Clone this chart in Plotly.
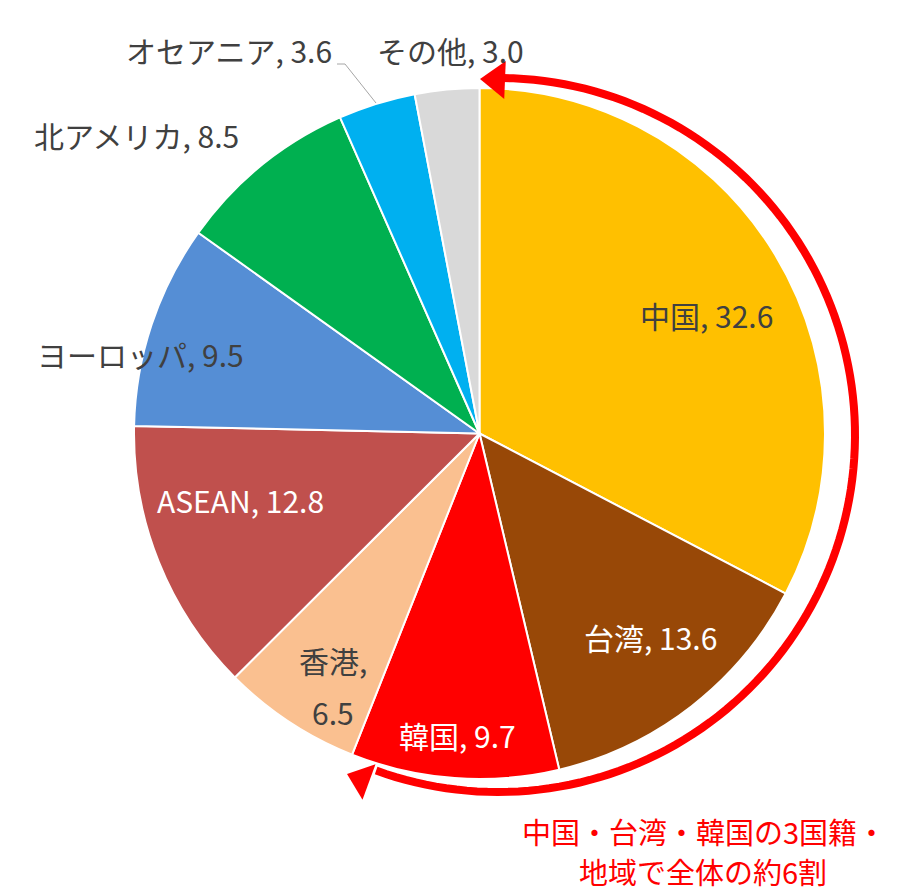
import math
import plotly.graph_objects as go

# ---- data ----
regions = ["中国", "台湾", "韓国", "香港", "ASEAN", "ヨーロッパ", "北アメリカ", "オセアニア", "その他"]
shares = [32.6, 13.6, 9.7, 6.5, 12.8, 9.5, 8.5, 3.6, 3.0]
colors = ["#FFC000", "#984807", "#FF0000", "#FAC090", "#C0504D", "#558ED5", "#00B050", "#00B0F0", "#D9D9D9"]
note_lines = ["中国・台湾・韓国の3国籍・", "地域で全体の約6割"]

# page body has an 8px margin, so the figure is 8px smaller and offset
OFF = 8
W, H = 910 - OFF, 892 - OFF
FONT = "Noto Sans CJK JP"
DARK = "#404040"

def px(x):
    return (x - OFF) / W

def py(y):
    return 1 - (y - OFF) / H

# label placement (pixel centers in window coords, anchor, colour)
label_style = {
    "中国": dict(x=706, y=315, anchor="center", color=DARK),
    "台湾": dict(x=650, y=637, anchor="center", color="white"),
    "韓国": dict(x=457, y=735, anchor="center", color="white"),
    "香港": dict(x=333, y=660, y2=712, anchor="center", color=DARK),
    "ASEAN": dict(x=240, y=500, anchor="center", color="white"),
    "ヨーロッパ": dict(x=140, y=354, anchor="center", color=DARK),
    "北アメリカ": dict(x=136, y=135, anchor="center", color=DARK),
    "オセアニア": dict(x=334, y=50, anchor="right", color=DARK),
    "その他": dict(x=450, y=50, anchor="center", color=DARK),
}

fig = go.Figure(go.Pie(
    labels=regions,
    values=shares,
    sort=False,
    direction="clockwise",
    rotation=0,
    marker=dict(colors=colors, line=dict(color="white", width=2)),
    textinfo="none",
    hoverinfo="label+value",
    domain=dict(x=[px(134), px(825)], y=[py(779), py(88)]),
    showlegend=False,
))

annotations = []

def add_text(x, y, text, anchor, color, size):
    annotations.append(dict(
        x=px(x), y=py(y), xref="paper", yref="paper",
        text=text, showarrow=False,
        xanchor=anchor, yanchor="middle",
        font=dict(family=FONT, size=size, color=color),
    ))

for name, val in zip(regions, shares):
    st = label_style[name]
    if "y2" in st:
        add_text(st["x"], st["y"], f"{name},", st["anchor"], st["color"], 30)
        add_text(st["x"], st["y2"], f"{val:.1f}", st["anchor"], st["color"], 30)
    else:
        add_text(st["x"], st["y"], f"{name}, {val:.1f}", st["anchor"], st["color"], 30)

add_text(704, 831, note_lines[0], "center", "#FF0000", 29)
add_text(703, 871, note_lines[1], "center", "#FF0000", 29)

shapes = []
# leader line for Oceania
shapes.append(dict(
    type="path", xref="paper", yref="paper",
    path=f"M {px(337)} {py(64)} L {px(345)} {py(64)} L {px(376)} {py(103)}",
    line=dict(color="#A6A6A6", width=1),
))

# red arc with arrowheads
cx, cy, r = 498, 435, 357
a0 = math.atan2(79 - cy, 503 - cx)       # start near top
a1 = math.atan2(782 - cy, 372 - cx)      # end near bottom-left
if a1 < a0:
    a1 += 2 * math.pi
pts = []
n = 120
for i in range(n + 1):
    a = a0 + (a1 - a0) * i / n
    pts.append((cx + r * math.cos(a), cy + r * math.sin(a)))
path = "M " + " L ".join(f"{px(x)} {py(y)}" for x, y in pts)
shapes.append(dict(type="path", xref="paper", yref="paper", path=path,
                   line=dict(color="#FF0000", width=8)))

def arrow(tip, base_center, half_w):
    tx, ty = tip
    bx, by = base_center
    dx, dy = tx - bx, ty - by
    L = math.hypot(dx, dy)
    nx, ny = -dy / L, dx / L
    p1 = (bx + nx * half_w, by + ny * half_w)
    p2 = (bx - nx * half_w, by - ny * half_w)
    return (f"M {px(tx)} {py(ty)} L {px(p1[0])} {py(p1[1])} "
            f"L {px(p2[0])} {py(p2[1])} Z")

shapes.append(dict(type="path", xref="paper", yref="paper",
                   path=arrow((480, 79), (505, 80), 19),
                   fillcolor="#FF0000", line=dict(color="#FF0000", width=0)))
shapes.append(dict(type="path", xref="paper", yref="paper",
                   path=arrow((347, 774), (369, 782), 19),
                   fillcolor="#FF0000", line=dict(color="#FF0000", width=0)))

fig.update_layout(
    width=W, height=H,
    margin=dict(l=0, r=0, t=0, b=0),
    paper_bgcolor="white", plot_bgcolor="white",
    annotations=annotations, shapes=shapes,
)

fig.write_html("out.html")
